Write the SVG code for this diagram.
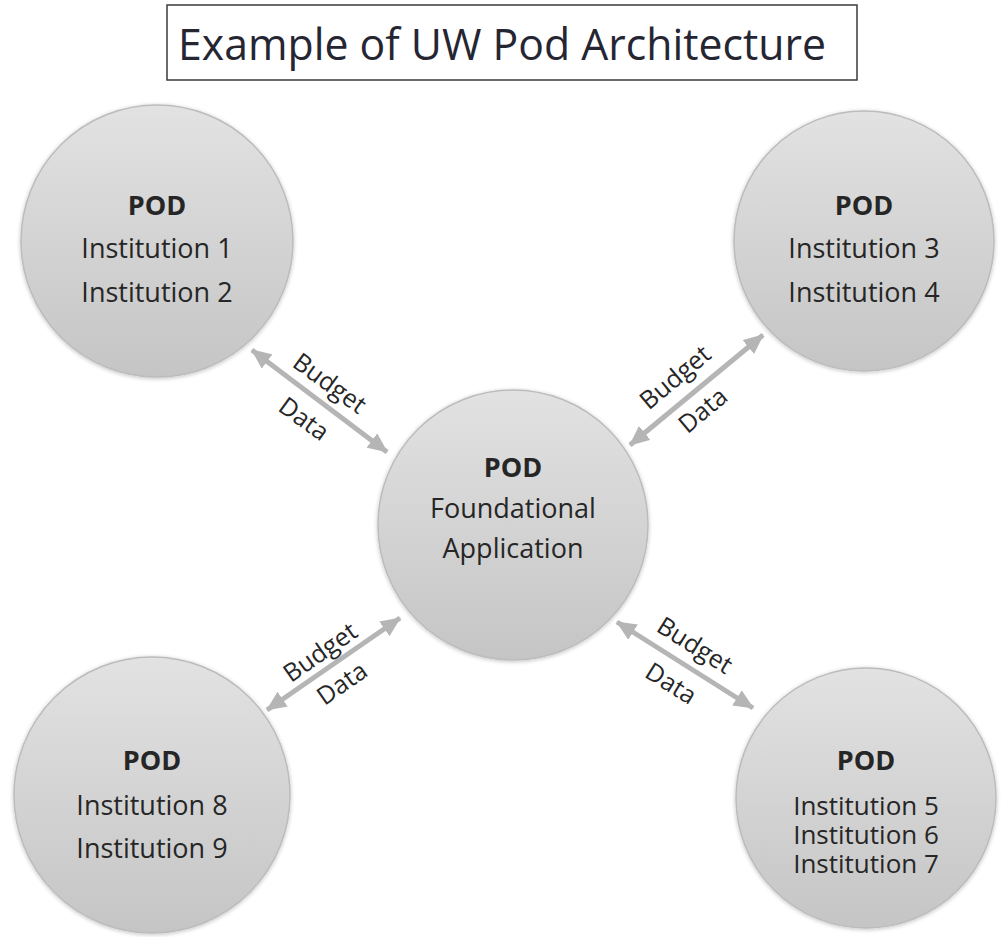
<svg xmlns="http://www.w3.org/2000/svg" width="1001" height="937" viewBox="0 0 1001 937">
<defs>
<linearGradient id="g" x1="0" y1="0" x2="0" y2="1">
<stop offset="0" stop-color="#e2e2e2"/>
<stop offset="1" stop-color="#c5c5c5"/>
</linearGradient>
<filter id="sh" x="-10%" y="-10%" width="120%" height="120%">
<feGaussianBlur in="SourceAlpha" stdDeviation="2"/>
<feOffset dx="0" dy="1" result="b"/>
<feComponentTransfer><feFuncA type="linear" slope="0.25"/></feComponentTransfer>
<feMerge><feMergeNode/><feMergeNode in="SourceGraphic"/></feMerge>
</filter>
<marker id="ah" viewBox="0 0 20 18" refX="19" refY="9" markerWidth="20" markerHeight="18" markerUnits="userSpaceOnUse" orient="auto-start-reverse">
<path d="M0,0 L20,9 L0,18 z" fill="#b5b5b5"/>
</marker>
</defs>
<style>
.c{fill:url(#g);stroke:#bcbcbc;stroke-width:1.5;filter:url(#sh)}
.t{font-family:"Open Sans","Liberation Sans",sans-serif;font-size:27px;fill:#262626;text-anchor:middle}
.s{font-size:26px}
.b{font-weight:bold}
.l{font-family:"Open Sans","Liberation Sans",sans-serif;font-size:25px;fill:#262626;text-anchor:middle}
.a{stroke:#b5b5b5;stroke-width:5;fill:none;marker-start:url(#ah);marker-end:url(#ah)}
</style>
<rect width="1001" height="937" fill="#ffffff"/>
<g id="title">
<rect x="167" y="5" width="690" height="75" fill="#ffffff" stroke="#3a3a3a" stroke-width="1.5"/>
<text x="178" y="60" font-family="'Open Sans','Liberation Sans',sans-serif" font-size="43" fill="#262633" textLength="648" lengthAdjust="spacingAndGlyphs">Example of UW Pod Architecture</text>
</g>
<g id="connectors">
<line class="a" x1="252" y1="350" x2="387" y2="452"/>
<line class="a" x1="630" y1="445" x2="763" y2="335"/>
<line class="a" x1="267" y1="710" x2="400" y2="618"/>
<line class="a" x1="617" y1="622" x2="753" y2="708"/>
<g transform="translate(330,383) rotate(36)"><text class="l" x="0" y="9">Budget</text><text class="l" x="0" y="53">Data</text></g>
<g transform="translate(675,377) rotate(-40)"><text class="l" x="0" y="9">Budget</text><text class="l" x="0" y="52">Data</text></g>
<g transform="translate(320,652) rotate(-35)"><text class="l" x="0" y="9">Budget</text><text class="l" x="0" y="47">Data</text></g>
<g transform="translate(695,645) rotate(32)"><text class="l" x="0" y="9">Budget</text><text class="l" x="0" y="54">Data</text></g>
</g>
<g id="pod-tl">
<circle class="c" cx="157" cy="241" r="136"/>
<text class="t b" x="157" y="215">POD</text>
<text class="t" x="157" y="258">Institution 1</text>
<text class="t" x="157" y="302">Institution 2</text>
</g>
<g id="pod-tr">
<circle class="c" cx="864" cy="241" r="130"/>
<text class="t b" x="864" y="215">POD</text>
<text class="t" x="864" y="258">Institution 3</text>
<text class="t" x="864" y="302">Institution 4</text>
</g>
<g id="pod-center">
<circle class="c" cx="513" cy="525" r="135"/>
<text class="t b" x="513" y="477">POD</text>
<text class="t" x="513" y="518">Foundational</text>
<text class="t" x="513" y="558">Application</text>
</g>
<g id="pod-bl">
<circle class="c" cx="152" cy="795" r="138"/>
<text class="t b" x="152" y="770">POD</text>
<text class="t" x="152" y="815">Institution 8</text>
<text class="t" x="152" y="858">Institution 9</text>
</g>
<g id="pod-br">
<circle class="c" cx="866" cy="798" r="130"/>
<text class="t b" x="866" y="770">POD</text>
<text class="t s" x="866" y="815">Institution 5</text>
<text class="t s" x="866" y="844">Institution 6</text>
<text class="t s" x="866" y="873">Institution 7</text>
</g>
</svg>
